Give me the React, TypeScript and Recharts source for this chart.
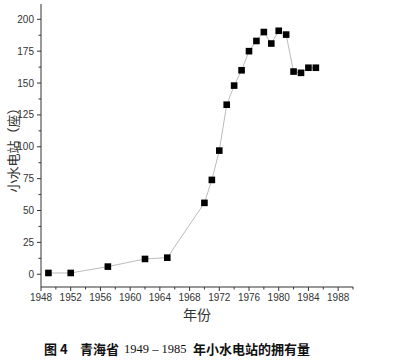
import { Line, LineChart, XAxis, YAxis } from "recharts";

const years = [
  1949, 1952, 1957, 1962, 1965, 1970, 1971, 1972, 1973, 1974, 1975,
  1976, 1977, 1978, 1979, 1980, 1981, 1982, 1983, 1984, 1985,
];
const stations = [
  1, 1, 6, 12, 13, 56, 74, 97, 133, 148, 160,
  175, 183, 190, 181, 191, 188, 159, 158, 162, 162,
];

const xMajorTicks = [1948, 1952, 1956, 1960, 1964, 1968, 1972, 1976, 1980, 1984, 1988];
const xMinorTicks = [1950, 1954, 1958, 1962, 1966, 1970, 1974, 1978, 1982, 1986, 1990];
const yMajorTicks = [0, 25, 50, 75, 100, 125, 150, 175, 200];
const yMinorTicks = [12.5, 37.5, 62.5, 87.5, 112.5, 137.5, 162.5, 187.5];

const data = years.map((year, i) => ({ year, count: stations[i] }));

const TICK_SIZE = 4;
const TICK_MARGIN = 3;
const AXIS_COLOR = "#333";
const TICK_FONT = "'Liberation Sans', Arial, sans-serif";
const CJK_FONT = "'Noto Sans CJK SC', sans-serif";

function XTick({ x, y, payload }: any) {
  const axisY = y - TICK_SIZE - TICK_MARGIN;
  const major = xMajorTicks.includes(payload.value);
  return (
    <g>
      <line x1={x} x2={x} y1={axisY} y2={axisY + (major ? 4 : 2.5)} stroke={AXIS_COLOR} />
      {major && (
        <text x={x} y={y} dy="0.71em" textAnchor="middle" fontSize={10} fontFamily={TICK_FONT} fill={AXIS_COLOR}>
          {payload.value}
        </text>
      )}
    </g>
  );
}

function YTick({ x, y, payload }: any) {
  const axisX = x + TICK_SIZE + TICK_MARGIN;
  const major = yMajorTicks.includes(payload.value);
  return (
    <g>
      <line x1={axisX} x2={axisX - (major ? 4 : 2.5)} y1={y} y2={y} stroke={AXIS_COLOR} />
      {major && (
        <text x={x} y={y} dy="0.355em" textAnchor="end" fontSize={10} fontFamily={TICK_FONT} fill={AXIS_COLOR}>
          {payload.value}
        </text>
      )}
    </g>
  );
}

function SquareDot({ cx, cy }: any) {
  if (cx == null || cy == null) return null;
  return <rect x={cx - 3.3} y={cy - 3.3} width={6.6} height={6.6} fill="#000" />;
}

export default function App() {
  return (
    <div style={{ position: "absolute", left: 0, top: 0, width: 394, height: 361, background: "#fff" }}>
      <LineChart width={394} height={361} data={data} margin={{ top: 4, right: 41, bottom: 54, left: 0 }}>
        <XAxis
          type="number"
          dataKey="year"
          domain={[1948, 1990]}
          ticks={[...xMajorTicks, ...xMinorTicks].sort((a, b) => a - b)}
          interval={0}
          tick={<XTick />}
          tickLine={false}
          tickSize={TICK_SIZE}
          tickMargin={TICK_MARGIN}
          axisLine={{ stroke: AXIS_COLOR }}
          height={20}
        />
        <YAxis
          type="number"
          domain={[-10, 212]}
          ticks={[...yMajorTicks, ...yMinorTicks].sort((a, b) => a - b)}
          interval={0}
          tick={<YTick />}
          tickLine={false}
          tickSize={TICK_SIZE}
          tickMargin={TICK_MARGIN}
          axisLine={{ stroke: AXIS_COLOR }}
          width={41}
        />
        <Line
          type="linear"
          dataKey="count"
          stroke="#aaa"
          strokeWidth={0.8}
          dot={<SquareDot />}
          activeDot={false}
          isAnimationActive={false}
        />
      </LineChart>
      <div
        style={{
          position: "absolute",
          left: 12,
          top: 147,
          transform: "translate(-50%, -50%) rotate(-90deg)",
          whiteSpace: "nowrap",
          fontFamily: CJK_FONT,
          fontSize: 13,
          color: "#333",
        }}
      >
        小水电站（座）
      </div>
      <div
        style={{
          position: "absolute",
          left: 197,
          top: 314,
          transform: "translate(-50%, -50%)",
          fontFamily: CJK_FONT,
          fontSize: 14,
          color: "#333",
        }}
      >
        年份
      </div>
      <div style={{ position: "absolute", left: 0, top: 341, width: 394, height: 16, fontSize: 13, color: "#111", lineHeight: "16px", whiteSpace: "nowrap" }}>
        <span style={{ position: "absolute", left: 44, fontFamily: CJK_FONT, fontWeight: 700 }}>图 4</span>
        <span style={{ position: "absolute", left: 80, fontFamily: CJK_FONT, fontWeight: 700 }}>青海省</span>
        <span style={{ position: "absolute", left: 124, fontFamily: "'Liberation Serif', serif", fontSize: 12.5 }}>1949 – 1985</span>
        <span style={{ position: "absolute", left: 193, fontFamily: CJK_FONT, fontWeight: 700 }}>年小水电站的拥有量</span>
      </div>
    </div>
  );
}
